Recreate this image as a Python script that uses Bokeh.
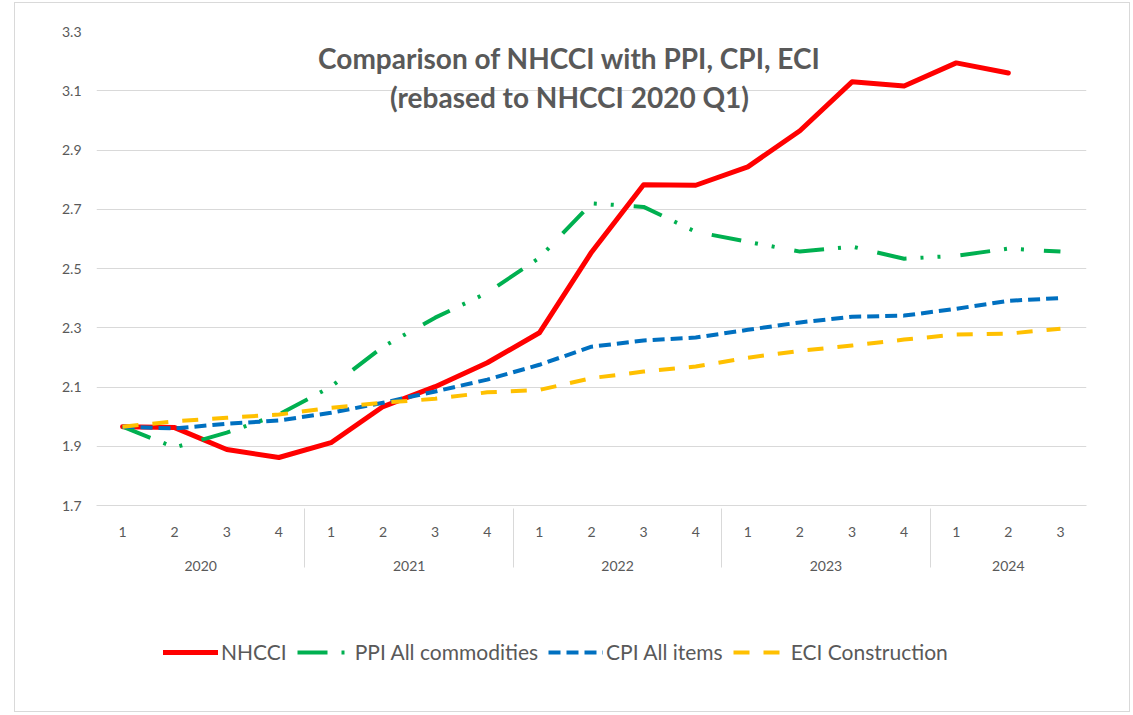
from bokeh.plotting import figure
from bokeh.layouts import column
from bokeh.models import (FactorRange, Range1d, Legend, LegendItem, Label,
                          FixedTicker, NumeralTickFormatter)
from bokeh.embed import file_html
from bokeh.resources import INLINE

years = ["2020"] * 4 + ["2021"] * 4 + ["2022"] * 4 + ["2023"] * 4 + ["2024"] * 3
quarters = ["1", "2", "3", "4"] * 4 + ["1", "2", "3"]
factors = list(zip(years, quarters))

nhcci = [1.966, 1.963, 1.889, 1.862, 1.912, 2.034, 2.101, 2.182, 2.283, 2.555,
         2.783, 2.781, 2.843, 2.965, 3.13, 3.116, 3.194, 3.16]
ppi = [1.966, 1.896, 1.946, 2.007, 2.101, 2.236, 2.334, 2.418, 2.536, 2.72,
       2.708, 2.624, 2.59, 2.557, 2.574, 2.533, 2.543, 2.567, 2.557]
cpi = [1.966, 1.96, 1.976, 1.987, 2.013, 2.047, 2.085, 2.125, 2.175, 2.236,
       2.257, 2.267, 2.293, 2.318, 2.337, 2.341, 2.364, 2.391, 2.40]
eci = [1.966, 1.984, 1.996, 2.007, 2.03, 2.047, 2.06, 2.082, 2.09, 2.13,
       2.152, 2.169, 2.199, 2.222, 2.24, 2.26, 2.277, 2.28, 2.297]

y_ticks = [1.7, 1.9, 2.1, 2.3, 2.5, 2.7, 2.9, 3.1, 3.3]
series_names = ["NHCCI", "PPI All commodities", "CPI All items", "ECI Construction"]
title_text = "Comparison of NHCCI with PPI, CPI, ECI\n(rebased to NHCCI 2020 Q1)"

FONT = "Lato"
GRAY = "#595959"
GRID = "#D9D9D9"

STYLES = [
    dict(line_color="#FF0000", line_width=5, line_join="round", line_cap="round"),
    dict(line_color="#00B050", line_width=4, line_dash="30 14 3 14 3 20", line_join="round"),
    dict(line_color="#0070C0", line_width=4, line_dash="12 6", line_join="round"),
    dict(line_color="#FFC000", line_width=4, line_dash="16 14", line_join="round"),
]
series_values = [nhcci, ppi, cpi, eci]

p = figure(frame_width=990, frame_height=474,
           x_range=FactorRange(*factors, factor_padding=0, group_padding=0, range_padding=0),
           y_range=Range1d(y_ticks[0], y_ticks[-1]),
           output_backend="svg", toolbar_location=None,
           min_border_left=81, min_border_right=43, min_border_top=28, min_border_bottom=80)
p.outline_line_color = None
p.background_fill_color = "white"
p.border_fill_color = "white"

p.xgrid.grid_line_color = None
p.ygrid.grid_line_color = GRID
p.ygrid.grid_line_width = 1

p.yaxis.ticker = FixedTicker(ticks=y_ticks)
p.yaxis.formatter = NumeralTickFormatter(format="0.0")
p.yaxis.axis_line_color = None
p.yaxis.major_tick_line_color = None
p.yaxis.minor_tick_line_color = None
p.yaxis.major_tick_out = 0
p.yaxis.minor_tick_out = 0
p.yaxis.major_label_text_font = FONT
p.yaxis.major_label_text_font_size = "14px"
p.yaxis.major_label_text_color = GRAY
p.yaxis.major_label_standoff = 15

xa = p.xaxis[0]
xa.axis_line_color = GRID
xa.axis_line_width = 1
xa.major_tick_line_color = None
xa.minor_tick_line_color = None
xa.major_tick_out = 0
xa.minor_tick_out = 0
xa.major_label_text_font = FONT
xa.major_label_text_font_size = "14px"
xa.major_label_text_color = GRAY
xa.major_label_standoff = 21
xa.group_text_font = FONT
xa.group_text_font_size = "14px"
xa.group_text_color = GRAY
xa.group_text_font_style = "normal"
xa.separator_line_color = GRID
xa.separator_line_width = 1

for vals, st in zip(series_values, STYLES):
    p.line(factors[:len(vals)], vals, **st)

title = Label(x=473, y=465, x_units="screen", y_units="screen", text=title_text,
              text_align="center", text_baseline="top", text_font=FONT,
              text_font_size="28px", text_font_style="bold", text_color=GRAY,
              text_line_height=1.16)
p.add_layout(title)

# legend strip below the chart: same series, drawn outside its visible y range,
# so that only the legend glyphs show
lg = figure(width=1114, height=126,
            x_range=FactorRange(*factors, factor_padding=0, group_padding=0, range_padding=0),
            y_range=Range1d(0, 1),
            output_backend="svg", toolbar_location=None,
            x_axis_location=None, y_axis_location=None,
            min_border=0)
lg.outline_line_color = None
lg.grid.visible = False
lg_renderers = [lg.line(factors[:len(vals)], vals, **st)
                for vals, st in zip(series_values, STYLES)]
legend = Legend(items=[LegendItem(label=n, renderers=[r])
                       for n, r in zip(series_names, lg_renderers)],
                orientation="horizontal", location=(67, 47),
                label_text_font=FONT, label_text_font_size="21px",
                label_text_color=GRAY, glyph_width=55, glyph_height=20,
                label_standoff=3, spacing=10, border_line_color=None,
                background_fill_alpha=0, padding=5, margin=0)
lg.add_layout(legend, "center")

layout = column(p, lg, spacing=0, margin=(2, 0, 0, 14),
                styles={"border": "1px solid #D9D9D9"})

open("out.html", "w").write(file_html(layout, INLINE))
